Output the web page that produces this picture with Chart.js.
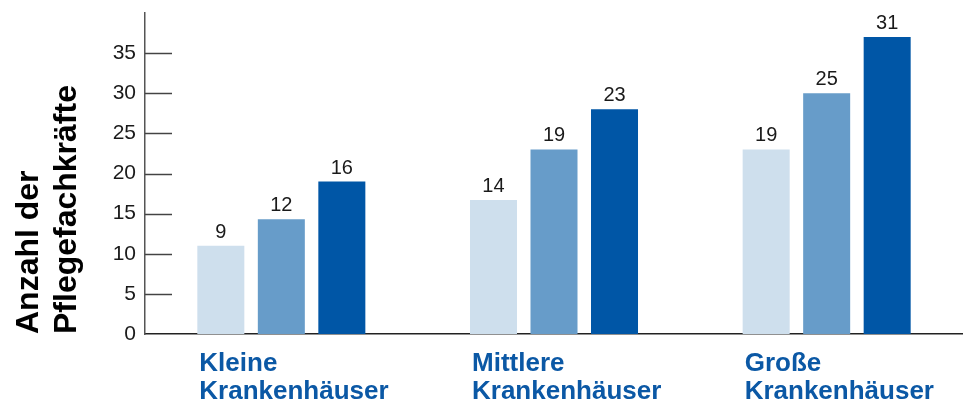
<!DOCTYPE html>
<html lang="de">
<head>
<meta charset="UTF-8">
<title>Anzahl der Pflegefachkräfte</title>
<script src="https://cdn.jsdelivr.net/npm/chart.js@4/dist/chart.umd.min.js"></script>
<style>
    html, body { margin: 0; padding: 0; background: #ffffff; }
    canvas { display: block; }
</style>
</head>
<body>
<canvas id="pflegeChart" width="963" height="405"></canvas>
<script>
// Kategorien (x-Achse)
const categories = [
    ["Kleine", "Krankenhäuser"],
    ["Mittlere", "Krankenhäuser"],
    ["Große", "Krankenhäuser"]
];

const barsLight = [11, 16.7, 23];
const barsMid = [14.3, 23, 30];
const barsDark = [19, 28, 37];

// Beschriftungen über den Balken
const labelsLight = [9, 14, 19];
const labelsMid = [12, 19, 25];
const labelsDark = [16, 23, 31];

// y-Achse
const yMax = 40;
const yStep = 5;

const fontFamily = "'Liberation Sans', Arial, Helvetica, sans-serif";

// Kurze Teilstriche nach innen an der y-Achse
const innerTicks = {
    id: "innerTicks",
    afterDraw(chart) {
        const ctx = chart.ctx;
        const y = chart.scales.y;
        const left = chart.chartArea.left;
        ctx.save();
        ctx.strokeStyle = "#444444";
        ctx.lineWidth = 1.5;
        y.ticks.forEach(t => {
            if (t.value >= yMax || t.value === 0) return;
            const py = Math.round(y.getPixelForValue(t.value)) + 0.5;
            ctx.beginPath();
            ctx.moveTo(left, py);
            ctx.lineTo(left + 27, py);
            ctx.stroke();
        });
        ctx.restore();
    }
};

// Zahlen über den Balken
const barLabels = {
    id: "barLabels",
    afterDatasetsDraw(chart) {
        const ctx = chart.ctx;
        ctx.save();
        ctx.font = "20px " + fontFamily;
        ctx.fillStyle = "#1a1a1a";
        ctx.textAlign = "center";
        ctx.textBaseline = "alphabetic";
        chart.data.datasets.forEach((ds, i) => {
            const meta = chart.getDatasetMeta(i);
            meta.data.forEach((bar, j) => {
                ctx.fillText(String(ds.topLabels[j]), bar.x, bar.y - 8);
            });
        });
        ctx.restore();
    }
};

const chart = new Chart(document.getElementById("pflegeChart"), {
    type: "bar",
    data: {
        labels: categories,
        datasets: [
            { data: barsLight, topLabels: labelsLight, backgroundColor: "#cedfed" },
            { data: barsMid, topLabels: labelsMid, backgroundColor: "#679cc9" },
            { data: barsDark, topLabels: labelsDark, backgroundColor: "#0056a6" }
        ]
    },
    options: {
        responsive: false,
        animation: false,
        layout: { padding: { top: 13, left: 0, right: 0, bottom: 0 } },
        datasets: {
            bar: {
                categoryPercentage: 0.6657,
                barPercentage: 0.777
            }
        },
        plugins: {
            legend: { display: false },
            tooltip: { enabled: false }
        },
        scales: {
            x: {
                grid: { display: false, drawTicks: false },
                border: { display: true, color: "#222222", width: 1.5 },
                ticks: {
                    align: "start",
                    labelOffset: -82,
                    padding: 16,
                    color: "#0b58a5",
                    font: { family: fontFamily, size: 26, weight: "bold", lineHeight: 1.08 },
                    maxRotation: 0,
                    autoSkip: false
                },
                afterFit: s => {
                    s.height = 71;
                    s.paddingLeft = 0;
                    s.paddingRight = 0;
                }
            },
            y: {
                min: 0,
                max: yMax,
                grid: { display: false, drawTicks: false },
                border: { display: true, color: "#555555", width: 1.5 },
                ticks: {
                    stepSize: yStep,
                    padding: 9,
                    color: "#1a1a1a",
                    font: { family: fontFamily, size: 21 },
                    callback: v => (v >= yMax ? "" : v)
                },
                title: {
                    display: true,
                    text: ["Anzahl der", "Pflegefachkräfte"],
                    align: "start",
                    color: "#000000",
                    padding: { top: 11, bottom: 0 },
                    font: { family: fontFamily, size: 32, weight: "bold", lineHeight: 1.16 }
                },
                afterFit: s => {
                    s.width = 145;
                    s.paddingTop = 0;
                    s.paddingBottom = 0;
                }
            }
        }
    },
    plugins: [innerTicks, barLabels]
});
</script>
</body>
</html>
